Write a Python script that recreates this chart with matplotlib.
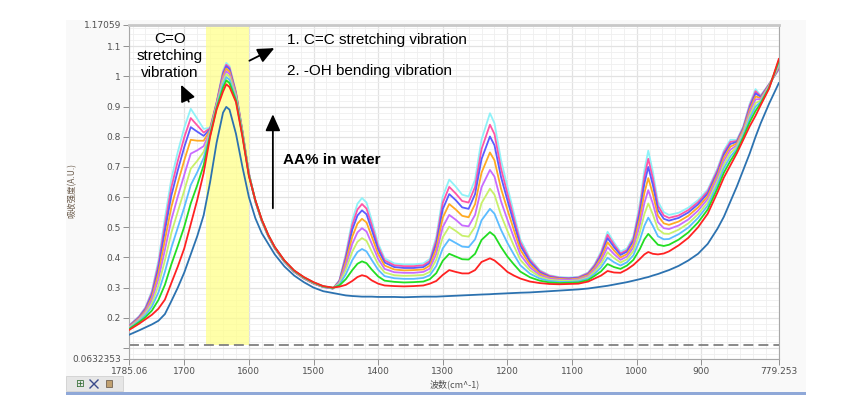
import matplotlib
matplotlib.use("Agg")
import matplotlib.pyplot as plt
from matplotlib.patches import Rectangle
from matplotlib.lines import Line2D
from matplotlib.ticker import MultipleLocator

# wavenumber grid (cm^-1)
wn = [1785, 1770, 1760, 1750, 1740, 1730, 1720, 1710, 1700, 1690, 1680, 1670, 1660, 1650,
      1640, 1635, 1630, 1620, 1610, 1600, 1590, 1580, 1570, 1560, 1545, 1530, 1515, 1500,
      1485, 1470,
      1460, 1450, 1440, 1432, 1425, 1418, 1410, 1400, 1390, 1375, 1360, 1345, 1330, 1320,
      1310, 1300, 1290, 1280, 1270, 1260, 1250, 1240, 1227, 1220, 1210, 1200, 1190, 1180,
      1165, 1150, 1135, 1120, 1105,
      1090, 1075, 1065, 1055, 1045, 1035, 1025, 1015, 1005, 995, 988, 982, 975, 967, 958,
      950, 935, 920, 905, 890, 875, 865, 855, 845, 835, 825, 816, 808, 795, 780]

cyan = [.175, .205, .235, .290, .390, .530, .660, .750, .830, .893, .860, .826, .830, .915,
        1.020, 1.045, 1.035, .950, .820, .680, .585, .520, .470, .430, .385, .352, .330, .313,
        .302, .297,
        .324, .413, .524, .578, .597, .582, .524, .447, .397, .380, .377, .377, .380, .395,
        .469, .602, .658, .635, .608, .602, .658, .791, .878, .845, .724, .635, .547, .460,
        .397, .358, .341, .335, .333,
        .336, .350, .378, .420, .485, .450, .419, .430, .470, .580, .690, .754, .685, .585, .550,
        .541, .548, .565, .590, .625, .695, .755, .790, .790, .835, .910, .958, .937, .975, 1.022]

pink = [.174, .203, .232, .284, .377, .508, .632, .720, .798, .862, .838, .814, .828, .913,
        1.014, 1.039, 1.029, .947, .818, .679, .585, .520, .470, .430, .385, .352, .330, .313,
        .302, .297,
        .322, .405, .508, .559, .577, .562, .508, .436, .390, .374, .371, .371, .374, .388,
        .457, .581, .634, .612, .587, .582, .634, .759, .840, .809, .696, .612, .530, .450,
        .391, .355, .339, .333, .331,
        .334, .348, .374, .414, .475, .442, .413, .424, .462, .565, .668, .727, .663, .571, .539,
        .531, .539, .557, .583, .619, .689, .748, .783, .786, .831, .904, .951, .934, .974, 1.025]

blue = [.173, .201, .229, .277, .364, .487, .605, .689, .766, .832, .817, .803, .825, .911,
        1.009, 1.034, 1.024, .944, .817, .678, .586, .521, .471, .431, .386, .353, .331, .314,
        .302, .297,
        .321, .396, .492, .539, .556, .543, .492, .426, .383, .368, .365, .365, .368, .382,
        .445, .560, .610, .590, .566, .561, .610, .726, .801, .772, .668, .590, .514, .439,
        .385, .351, .336, .331, .330,
        .332, .345, .370, .407, .464, .434, .408, .419, .455, .550, .645, .700, .641, .557, .528,
        .522, .531, .549, .576, .612, .682, .741, .776, .783, .828, .898, .944, .932, .973, 1.028]

orange = [.171, .198, .224, .268, .347, .457, .567, .647, .722, .790, .787, .787, .822, .908,
          1.001, 1.026, 1.016, .941, .815, .677, .586, .521, .471, .431, .386, .353, .331, .314,
          .303, .298,
          .318, .385, .469, .512, .528, .516, .470, .411, .373, .360, .357, .358, .360, .373,
          .429, .532, .577, .559, .538, .533, .577, .681, .748, .722, .629, .559, .491, .425,
          .376, .346, .333, .329, .327,
          .330, .342, .365, .398, .450, .423, .400, .411, .444, .530, .614, .663, .611, .538, .513,
          .508, .519, .538, .566, .603, .673, .731, .767, .778, .823, .890, .934, .928, .971, 1.032]

violet = [.169, .195, .219, .259, .328, .425, .525, .602, .674, .744, .755, .769, .818, .905,
          .993, 1.017, 1.008, .936, .812, .676, .587, .522, .472, .432, .387, .354, .332, .315,
          .303, .298,
          .316, .372, .445, .483, .497, .486, .446, .395, .362, .351, .349, .349, .352, .363,
          .412, .501, .541, .525, .506, .503, .541, .633, .690, .668, .587, .525, .466, .409,
          .367, .341, .330, .326, .325,
          .327, .338, .359, .389, .434, .411, .392, .403, .433, .508, .581, .623, .579, .517, .497,
          .494, .506, .526, .555, .594, .664, .720, .757, .772, .817, .881, .924, .925, .969, 1.036]

lgreen = [.167, .192, .214, .248, .307, .390, .481, .552, .622, .694, .720, .750, .814, .902,
          .984, 1.008, .999, .932, .810, .675, .588, .523, .473, .433, .388, .355, .333, .316,
          .304, .299,
          .313, .359, .419, .452, .464, .455, .420, .377, .350, .341, .339, .340, .342, .352,
          .393, .467, .502, .488, .472, .469, .502, .580, .628, .608, .541, .488, .439, .392,
          .357, .336, .326, .323, .322,
          .324, .334, .353, .378, .417, .398, .383, .394, .421, .484, .544, .579, .543, .494, .479,
          .478, .492, .513, .543, .583, .653, .708, .746, .767, .812, .871, .912, .920, .967, 1.041]

sky = [.165, .189, .209, .237, .284, .352, .432, .499, .566, .640, .682, .730, .810, .899,
       .974, .998, .989, .927, .807, .673, .588, .523, .473, .433, .388, .355, .333, .316,
       .304, .299,
       .310, .344, .391, .418, .428, .420, .392, .359, .338, .331, .329, .329, .332, .341,
       .372, .430, .460, .448, .436, .434, .460, .523, .561, .545, .492, .448, .410, .374,
       .346, .330, .322, .319, .319,
       .321, .330, .346, .367, .399, .384, .373, .384, .407, .458, .505, .532, .505, .470, .460,
       .461, .477, .499, .531, .572, .642, .696, .734, .760, .805, .861, .900, .916, .965, 1.046]

green = [.163, .185, .202, .224, .259, .309, .377, .438, .502, .579, .639, .706, .805, .895,
         .963, .987, .978, .921, .804, .672, .589, .524, .474, .434, .389, .356, .334, .317,
         .304, .299,
         .307, .328, .358, .379, .387, .381, .360, .337, .323, .319, .317, .318, .320, .328,
         .348, .389, .412, .403, .394, .393, .412, .458, .484, .472, .435, .403, .377, .353,
         .334, .323, .317, .315, .316,
         .317, .325, .339, .354, .378, .368, .362, .373, .392, .428, .460, .478, .461, .442, .438,
         .442, .459, .483, .516, .559, .629, .681, .720, .753, .798, .849, .886, .911, .963, 1.052]

red = [.160, .180, .195, .210, .230, .260, .315, .370, .430, .510, .590, .680, .800, .890,
       .950, .974, .965, .915, .800, .670, .590, .525, .475, .435, .390, .357, .335, .318,
       .305, .300,
       .303, .309, .322, .335, .341, .337, .324, .313, .307, .305, .304, .305, .307, .313,
       .322, .342, .358, .352, .347, .347, .358, .385, .397, .390, .372, .352, .340, .330,
       .320, .315, .312, .311, .312,
       .313, .320, .330, .340, .355, .350, .349, .360, .375, .395, .410, .418, .412, .410, .413,
       .420, .440, .465, .500, .545, .615, .665, .705, .745, .790, .835, .870, .905, .960, 1.058]

water = [.144, .158, .168, .178, .190, .212, .255, .300, .350, .410, .470, .540, .650, .780,
         .880, .899, .890, .810, .700, .600, .530, .480, .445, .410, .370, .340, .318, .300,
         .288, .282,
         .278, .274, .272, .271, .270, .270, .270, .269, .269, .269, .268, .269, .270, .270,
         .270, .271, .272, .273, .274, .275, .276, .277, .278, .279, .280, .281, .282, .283,
         .284, .286, .288, .290, .292,
         .294, .297, .300, .303, .306, .310, .314, .318, .323, .328, .332, .335, .340, .345, .352,
         .358, .372, .390, .412, .445, .495, .535, .585, .635, .690, .745, .800, .845, .910, .978]

series = [cyan, pink, blue, orange, violet, lgreen, sky, green, red, water]
colors = ['#8ff2f8', '#ff55a5', '#5a5cff', '#ffaa22', '#c86bff', '#c8f06a', '#5cbcff',
          '#22dd22', '#ff2222', '#2c72b0']

xticks = [1785.06, 1700, 1600, 1500, 1400, 1300, 1200, 1100, 1000, 900, 779.253]
xlabels = ['1785.06', '1700', '1600', '1500', '1400', '1300', '1200', '1100', '1000', '900', '779.253']
yticks = [0.0632353, 0.1, 0.2, 0.3, 0.4, 0.5, 0.6, 0.7, 0.8, 0.9, 1.0, 1.1, 1.17059]
ylabels = ['0.0632353', '', '0.2', '0.3', '0.4', '0.5', '0.6', '0.7', '0.8', '0.9', '1', '1.1', '1.17059']

fig = plt.figure(figsize=(8.58, 3.99), dpi=100)

# grey panel behind the graph, blue strip at its bottom, toolbar
bg = fig.add_axes([0, 0, 1, 1], zorder=-10)
bg.set_xlim(0, 858)
bg.set_ylim(399, 0)
bg.axis('off')
bg.add_patch(Rectangle((66, 20), 740, 373, facecolor='#f9f9f9', edgecolor='none'))
bg.add_patch(Rectangle((66, 392), 740, 2.5, facecolor='#8fa8d8', edgecolor='none'))
bg.add_patch(Rectangle((66, 376), 57, 15, facecolor='#e6e6e6', edgecolor='#d0d0d0', lw=0.6))
bg.text(79, 384, '⊞', fontsize=7.5, ha='center', va='center', color='#2f6a2f')
bg.add_line(Line2D([90, 98], [388, 380], color='#3a4a8a', lw=1))
bg.add_line(Line2D([90, 98], [380, 388], color='#3a4a8a', lw=1))
bg.add_patch(Rectangle((106, 380), 6, 7, facecolor='#c0a070', edgecolor='#605040', lw=0.5))

ax = fig.add_axes([129.3/858, 1 - 359/399, 650/858, 334/399])
ax.set_facecolor('white')

ax.fill_between([1667, 1600], 0.11, 1.17059, color='#ffff88', alpha=0.72, lw=0, zorder=1)
ax.axhline(0.11, color='#808080', lw=1.3, dashes=(5.5, 2.8), zorder=2)

for vals, c in zip(series, colors):
    ax.plot(wn, vals, color=c, lw=1.3, zorder=3)

ax.set_xlim(1785.06, 779.253)
ax.set_ylim(0.0632353, 1.17059)
ax.set_xticks(xticks)
ax.set_xticklabels(xlabels)
ax.set_yticks(yticks)
ax.set_yticklabels(ylabels)
ax.xaxis.set_minor_locator(MultipleLocator(20))
ax.yaxis.set_minor_locator(MultipleLocator(0.02))
ax.grid(which='major', color='#e2e2e2', lw=0.9, zorder=0)
ax.grid(which='minor', color='#efefef', lw=0.6, zorder=0)
ax.set_axisbelow(True)
ax.tick_params(which='major', length=4, width=0.7, color='#909090', labelsize=6.5,
               labelcolor='#505050', pad=2)
ax.tick_params(which='minor', length=0)
for s in ['left', 'bottom', 'right']:
    ax.spines[s].set_color('#a8a8a8')
    ax.spines[s].set_linewidth(0.8)
ax.spines['top'].set_color('#c8c8c8')
ax.spines['top'].set_linewidth(2)

ax.set_xlabel('波数(cm^-1)', fontsize=6.5, color='#505050', labelpad=2,
              family=['Noto Sans CJK SC', 'DejaVu Sans'])
fig.text(72/858, 1 - 190/399, '吸收强度(A.U.)', rotation=90, fontsize=6, color='#6a5a4a',
         ha='center', va='center', family=['Noto Sans CJK SC', 'DejaVu Sans'])

tf = ['Liberation Sans', 'DejaVu Sans']
ax.text(1722, 1.068, 'C=O\nstretching\nvibration', ha='center', va='center', fontsize=11,
        family=tf, linespacing=1.3, zorder=5)
ax.text(1541.3, 1.121, '1. C=C stretching vibration', ha='left', va='center', fontsize=11,
        family=tf, zorder=5)
ax.text(1541.3, 1.018, '2. -OH bending vibration', ha='left', va='center', fontsize=11,
        family=tf, zorder=5)
ax.text(1547.5, 0.724, 'AA% in water', ha='left', va='center', fontsize=11,
        fontweight='bold', family=tf, zorder=5)

aprops = dict(arrowstyle='-|>,head_length=1.0,head_width=0.45', color='black', lw=1.3)
ax.annotate('', xy=(1706.7, 0.981), xytext=(1691.2, 0.908), arrowprops=aprops, zorder=5)
ax.annotate('', xy=(1556.7, 1.098), xytext=(1603.1, 1.048), arrowprops=aprops, zorder=5)
ax.annotate('', xy=(1562.9, 0.884), xytext=(1562.9, 0.554), arrowprops=aprops, zorder=5)

fig.savefig('out.png', dpi=100)
